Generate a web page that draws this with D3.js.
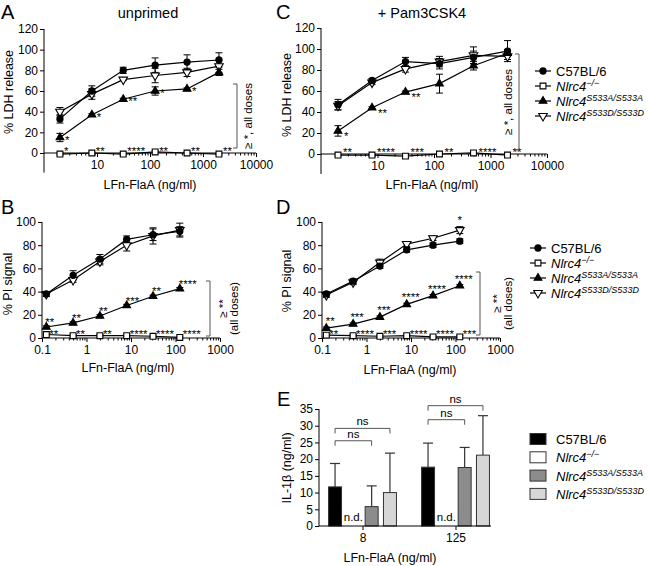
<!DOCTYPE html>
<html><head><meta charset="utf-8">
<script src="https://cdn.jsdelivr.net/npm/d3@7"></script>
<style>body{margin:0;background:#fff} svg text{font-family:"Liberation Sans",Arial,sans-serif;fill:#000}</style>
</head><body><svg id="c" width="650" height="566"></svg>
<script>
// ---------- data ----------
const dosesAC = [2, 8, 31.25, 125, 500, 2000];
const dosesBD = [0.125, 0.5, 2, 8, 31.25, 125];
const xTicksAC = [10, 100, 1000, 10000];
const xTicksBD = [0.1, 1, 10, 100, 1000];
const yTicksLDH = [0, 20, 40, 60, 80, 100, 120];
const yTicksPI = [0, 20, 40, 60, 80, 100];
const yTicksIL = [0, 5, 10, 15, 20, 25, 30, 35];

// Panel A (unprimed, % LDH release)
const A_wt = [33, 60, 80, 85, 88, 90];
const A_wtErr = [4, 5, 3, 7, 7, 7];
const A_ko = [-1, 0, -1, 1, 0, -1];
const A_koErr = [1, 1, 1, 1, 1, 1];
const A_sa = [15, 37, 52, 60, 62, 78];
const A_saErr = [4, 1, 1, 4, 1, 3];
const A_sd = [40, 57, 71, 75, 78, 84];
const A_sdErr = [4, 5, 1, 7, 4, 6];
const A_saStars = ["*", "*", "**", "*", "*", ""];
const A_koStars = ["*", "**", "****", "**", "**", "**"];

// Panel C (+ Pam3CSK4, % LDH release)
const C_wt = [47, 70, 88, 86, 92, 98];
const C_wtErr = [5, 2, 4, 5, 6, 10];
const C_ko = [-1, -1, -2, 0, 1, -1];
const C_koErr = [1, 1, 1, 1, 1, 1];
const C_sa = [22, 44, 59, 67, 84, 96];
const C_saErr = [5, 1, 1, 9, 4, 3];
const C_sd = [46, 68, 81, 88, 94, 93];
const C_sdErr = [4, 2, 3, 5, 8, 3];
const C_saStars = ["*", "**", "**", "", "", ""];
const C_koStars = ["**", "****", "***", "**", "****", "**"];

// Panel B (unprimed, % PI signal)
const B_wt = [38, 54, 68, 85, 89, 92];
const B_wtErr = [2, 4, 4, 3, 5, 4];
const B_ko = [3, 2, 2, 2, 1.5, 0.5];
const B_koErr = [1, 1, 1, 1, 1, 1];
const B_sa = [9.5, 13, 19, 28, 36, 42.5];
const B_saErr = [1, 1, 1, 1, 1, 1];
const B_sd = [38, 50, 66, 80, 88, 93];
const B_sdErr = [2, 2, 3, 5, 7, 6];
const B_saStars = ["**", "**", "**", "***", "**", "****"];
const B_koStars = ["**", "**", "**", "****", "****", "****"];

// Panel D (+ Pam3CSK4, % PI signal)
const D_wt = [38, 49, 62, 76, 80, 83.5];
const D_wtErr = [2, 2, 2, 2, 2, 2];
const D_ko = [2.5, 2, 1.5, 2, 1, 1];
const D_koErr = [1, 1, 1, 1, 1, 1];
const D_sa = [8.5, 12, 18, 29, 36.5, 45];
const D_saErr = [1, 1, 1, 1, 1, 1];
const D_sd = [37, 48, 65, 81, 86, 93];
const D_sdErr = [2, 2, 3, 2, 2, 3];
const D_saStars = ["**", "***", "***", "****", "****", "****"];
const D_koStars = ["**", "****", "***", "****", "****", "***"];
const D_sdStars = ["", "", "", "", "", "*"];

// Panel E (IL-1β)
const E_groups = ["8", "125"];
const E_series = ["wt", "ko", "sa", "sd"];
const E_wt = [11.7, 17.6];
const E_wtErr = [7.0, 7.2];
const E_ko = [null, null];
const E_sa = [5.8, 17.5];
const E_saErr = [6.2, 6.0];
const E_sd = [10.0, 21.2];
const E_sdErr = [11.8, 11.8];
const E_nsPairs = [["8", "wt", "sa", 25.5], ["8", "wt", "sd", 29.2], ["125", "wt", "sa", 31.8], ["125", "wt", "sd", 36]];

const legendNames = ["C57BL/6", "Nlrc4", "Nlrc4", "Nlrc4"];
const legendSups = ["", "\u2212/\u2212", "S533A/S533A", "S533D/S533D"];
const barFills = ["#000000", "#ffffff", "#8c8c8c", "#d6d6d6"];

// ---------- drawing ----------
const svg = d3.select("#c");
const symDefs = {
  wt: {type: d3.symbolCircle, size: 30, fill: "#000", rot: 0},
  ko: {type: d3.symbolSquare, size: 34, fill: "#fff", rot: 0},
  sa: {type: d3.symbolTriangle, size: 26, fill: "#000", rot: 0},
  sd: {type: d3.symbolTriangle, size: 32, fill: "#fff", rot: 180}
};
function marker(g, key, cx, cy) {
  const s = symDefs[key];
  g.append("path").attr("d", d3.symbol().type(s.type).size(s.size)())
    .attr("transform", `translate(${cx},${cy}) rotate(${s.rot})`)
    .attr("fill", s.fill).attr("stroke", "#000").attr("stroke-width", 1.1);
}
function text(g, x, y, s, size, anchor = "start", extra = {}) {
  const t = g.append("text").attr("x", x).attr("y", y).attr("font-size", size).attr("text-anchor", anchor).text(s);
  for (const k in extra) t.attr(k, extra[k]);
  return t;
}

function linePanel(p) {
  const g = svg.append("g");
  const x = p.x, y = p.y;
  const x0 = x.range()[0], x1 = x.range()[1];
  const ya = g.append("g").attr("transform", `translate(${x0},0)`)
    .call(d3.axisLeft(y).tickValues(p.yTicks).tickSize(4).tickPadding(2));
  ya.select(".domain").remove();
  ya.selectAll("text").attr("font-size", 12).attr("font-family", null);
  g.append("line").attr("x1", x0).attr("x2", x0).attr("y1", y(p.yBottom)).attr("y2", y(p.yTicks[p.yTicks.length - 1])).attr("stroke", "#000");
  const xa = g.append("g").attr("transform", `translate(0,${y(0)})`)
    .call(d3.axisBottom(x).tickValues(p.xTicks).tickFormat(d => String(d)).tickSize(4).tickPadding(3));
  xa.select(".domain").remove();
  xa.selectAll("text").attr("font-size", 12).attr("font-family", null);
  const minor = [];
  const dom = x.domain();
  for (let e = Math.round(Math.log10(dom[0])); e < Math.round(Math.log10(dom[1])); e++)
    for (let k = 2; k <= 9; k++) minor.push(k * Math.pow(10, e));
  const xm = g.append("g").attr("transform", `translate(0,${y(0)})`)
    .call(d3.axisBottom(x).tickValues(minor).tickFormat("").tickSize(2.5));
  xm.select(".domain").remove();
  g.append("line").attr("x1", x0).attr("x2", x1).attr("y1", y(0)).attr("y2", y(0)).attr("stroke", "#000");
  g.selectAll(".tick line").attr("stroke", "#000");

  const order = ["ko", "sd", "sa", "wt"];
  const line = d3.line().x(d => x(d[0])).y(d => y(d[1]));
  order.forEach(k => {
    const s = p.series[k];
    g.append("path").attr("d", line(p.doses.map((d, i) => [d, s.v[i]])))
      .attr("fill", "none").attr("stroke", "#000").attr("stroke-width", 1.2);
  });
  order.forEach(k => {
    const s = p.series[k];
    p.doses.forEach((d, i) => {
      const cx = x(d), lo = y(s.v[i] - s.e[i]), hi = y(s.v[i] + s.e[i]);
      g.append("line").attr("x1", cx).attr("x2", cx).attr("y1", lo).attr("y2", hi).attr("stroke", "#000");
      [lo, hi].forEach(yy => g.append("line").attr("x1", cx - 3.5).attr("x2", cx + 3.5).attr("y1", yy).attr("y2", yy).attr("stroke", "#000"));
    });
  });
  order.forEach(k => {
    const s = p.series[k];
    p.doses.forEach((d, i) => marker(g, k, x(d), y(s.v[i])));
  });
  (p.stars || []).forEach(st => {
    const s = p.series[st.key];
    p.doses.forEach((d, i) => {
      if (!st.labels[i]) return;
      const yy = st.onAxis ? y(0) : y(s.v[i]);
      text(g, x(d) + st.dx, yy + st.dy, st.labels[i], 11.5, st.anchor || "start");
    });
  });
  text(g, p.xTitleX, p.xTitleY, "LFn-FlaA (ng/ml)", 12.5, "middle");
  text(g, 0, 0, p.yTitle, 12.5, "middle", {transform: `translate(${p.yTitleX},${p.yTitleY}) rotate(-90)`});
  text(g, p.letterX, p.letterY, p.letter, 20);
  if (p.title) text(g, p.titleX, 18, p.title, 14.5, "middle");
  const b = p.bracket;
  g.append("path").attr("d", `M${b.x - 4},${b.y1}H${b.x}V${b.y2}H${b.x - 4}`).attr("fill", "none").attr("stroke", "#555");
  b.lines.forEach((ln, i) => {
    text(g, 0, 0, ln, 11.5, "middle", {transform: `translate(${b.tx + i * 11},${(b.y1 + b.y2) / 2 + (b.tyOff || 0)}) rotate(-90)`, "dominant-baseline": "central"});
  });
  return g;
}

function legendLine(x, y0, dy) {
  const g = svg.append("g");
  ["wt", "ko", "sa", "sd"].forEach((k, i) => {
    const yy = y0 + i * dy;
    g.append("line").attr("x1", x - 8).attr("x2", x + 8).attr("y1", yy).attr("y2", yy).attr("stroke", "#000").attr("stroke-width", 1.2);
    marker(g, k, x, yy);
    const t = g.append("text").attr("x", x + 13).attr("y", yy + 5).attr("font-size", 13);
    t.append("tspan").text(legendNames[i]).attr("font-style", i ? "italic" : null);
    if (legendSups[i]) t.append("tspan").text(legendSups[i]).attr("font-size", 9).attr("dy", -5).attr("font-style", "italic");
  });
}

// Panel A
linePanel({
  x: d3.scaleLog().domain([1, 10000]).range([44, 256]),
  y: d3.scaleLinear().domain([0, 120]).range([153, 29]),
  doses: dosesAC, xTicks: xTicksAC, yTicks: yTicksLDH, yBottom: -19,
  series: {wt: {v: A_wt, e: A_wtErr}, ko: {v: A_ko, e: A_koErr}, sa: {v: A_sa, e: A_saErr}, sd: {v: A_sd, e: A_sdErr}},
  stars: [{key: "sa", labels: A_saStars, dx: 5, dy: 6}, {key: "ko", labels: A_koStars, dx: 4, onAxis: true, dy: 2}],
  xTitleX: 150, xTitleY: 189, yTitle: "% LDH release", yTitleX: 13, yTitleY: 92,
  letter: "A", letterX: 1, letterY: 19, title: "unprimed", titleX: 148,
  bracket: {x: 237, y1: 84, y2: 148, tx: 248, lines: ["\u2265 *, all doses"]}
});
// Panel C
linePanel({
  x: d3.scaleLog().domain([1, 10000]).range([321, 547]),
  y: d3.scaleLinear().domain([0, 120]).range([154, 28]),
  doses: dosesAC, xTicks: xTicksAC, yTicks: yTicksLDH, yBottom: -19,
  series: {wt: {v: C_wt, e: C_wtErr}, ko: {v: C_ko, e: C_koErr}, sa: {v: C_sa, e: C_saErr}, sd: {v: C_sd, e: C_sdErr}},
  stars: [{key: "sa", labels: C_saStars, dx: 6, dy: 9}, {key: "ko", labels: C_koStars, dx: 5, onAxis: true, dy: 2}],
  xTitleX: 432, xTitleY: 189, yTitle: "% LDH release", yTitleX: 291, yTitleY: 95,
  letter: "C", letterX: 276, letterY: 19, title: "+ Pam3CSK4", titleX: 422,
  bracket: {x: 519, y1: 54, y2: 150, tx: 508, lines: ["\u2265 *, all doses"]}
});
// Panel B
linePanel({
  x: d3.scaleLog().domain([0.1, 1000]).range([42, 220]),
  y: d3.scaleLinear().domain([0, 100]).range([338, 222]),
  doses: dosesBD, xTicks: xTicksBD, yTicks: yTicksPI, yBottom: 0,
  series: {wt: {v: B_wt, e: B_wtErr}, ko: {v: B_ko, e: B_koErr}, sa: {v: B_sa, e: B_saErr}, sd: {v: B_sd, e: B_sdErr}},
  stars: [{key: "sa", labels: B_saStars, dx: -1, dy: -1}, {key: "ko", labels: B_koStars, dx: 3, onAxis: true, dy: 0}],
  xTitleX: 128, xTitleY: 372, yTitle: "% PI signal", yTitleX: 12, yTitleY: 284,
  letter: "B", letterX: 1, letterY: 214,
  bracket: {x: 210, y1: 281, y2: 336, tx: 223, lines: ["\u2265 **", "(all doses)"]}
});
// Panel D
linePanel({
  x: d3.scaleLog().domain([0.1, 1000]).range([322, 500]),
  y: d3.scaleLinear().domain([0, 100]).range([338, 222]),
  doses: dosesBD, xTicks: xTicksBD, yTicks: yTicksPI, yBottom: 0,
  series: {wt: {v: D_wt, e: D_wtErr}, ko: {v: D_ko, e: D_koErr}, sa: {v: D_sa, e: D_saErr}, sd: {v: D_sd, e: D_sdErr}},
  stars: [{key: "sa", labels: D_saStars, dx: 4, dy: -3, anchor: "middle"}, {key: "ko", labels: D_koStars, dx: 3, onAxis: true, dy: 0},
          {key: "sd", labels: D_sdStars, dx: 0, dy: -6, anchor: "middle"}],
  xTitleX: 410, xTitleY: 374, yTitle: "% PI signal", yTitleX: 291, yTitleY: 281,
  letter: "D", letterX: 276, letterY: 214,
  bracket: {x: 480, y1: 272, y2: 335, tx: 497, lines: ["\u2265 **", "(all doses)"]}
});

legendLine(543, 71, 15);
legendLine(538, 248, 15);

// Panel E
(function () {
  const g = svg.append("g");
  const y = d3.scaleLinear().domain([0, 35]).range([526, 409]);
  const x0 = d3.scaleBand().domain(E_groups).range([316, 502]);
  const x1 = d3.scaleBand().domain(E_series).range([-36.6, 36.6]).paddingInner(0.29).paddingOuter(0.145);
  const cx = (gr, s) => x0(gr) + x0.bandwidth() / 2 + x1(s) + x1.bandwidth() / 2;
  const vals = {wt: [E_wt, E_wtErr], ko: [E_ko, null], sa: [E_sa, E_saErr], sd: [E_sd, E_sdErr]};
  const ya = g.append("g").attr("transform", "translate(319,0)").call(d3.axisLeft(y).tickValues(yTicksIL).tickSize(4).tickPadding(2));
  ya.selectAll("text").attr("font-size", 12).attr("font-family", null);
  ya.select(".domain").attr("d", `M0,${y(0)}V${y(35)}`);
  E_series.forEach((s, si) => {
    E_groups.forEach((gr, gi) => {
      const v = vals[s][0][gi];
      const c = cx(gr, s);
      if (v == null) {
        text(g, c, y(0) - 5, "n.d.", 11.5, "middle");
        return;
      }
      const e = vals[s][1][gi];
      g.append("line").attr("x1", c).attr("x2", c).attr("y1", y(v)).attr("y2", y(v + e)).attr("stroke", "#333").attr("stroke-width", 1.2);
      g.append("line").attr("x1", c - 5).attr("x2", c + 5).attr("y1", y(v + e)).attr("y2", y(v + e)).attr("stroke", "#333").attr("stroke-width", 1.2);
      g.append("rect").attr("x", c - x1.bandwidth() / 2).attr("y", y(v)).attr("width", x1.bandwidth()).attr("height", y(0) - y(v))
        .attr("fill", barFills[si]).attr("stroke", "#333").attr("stroke-width", 1);
    });
  });
  const xa = g.append("g").attr("transform", `translate(0,${y(0)})`)
    .call(d3.axisBottom(d3.scalePoint().domain(E_groups).range([x0("8") + x0.bandwidth() / 2, x0("125") + x0.bandwidth() / 2])).tickSize(4).tickPadding(3));
  xa.select(".domain").remove();
  xa.selectAll("text").attr("font-size", 12).attr("font-family", null);
  g.append("line").attr("x1", 319).attr("x2", 491).attr("y1", y(0)).attr("y2", y(0)).attr("stroke", "#000");
  E_nsPairs.forEach(([gr, a, b, lvl]) => {
    const xa1 = cx(gr, a), xb = cx(gr, b), yy = y(lvl);
    g.append("path").attr("d", `M${xa1},${yy + 5}V${yy}H${xb}V${yy + 5}`).attr("fill", "none").attr("stroke", "#555");
    text(g, (xa1 + xb) / 2, yy - 3, "ns", 11.5, "middle");
  });
  text(g, 390, 562, "LFn-FlaA (ng/ml)", 12.5, "middle");
  text(g, 0, 0, "IL-1\u03b2 (ng/ml)", 12.5, "middle", {transform: "translate(291,468) rotate(-90)"});
  text(g, 277, 406, "E", 20);
  E_series.forEach((s, i) => {
    const yy = 439 + i * 18.3;
    g.append("rect").attr("x", 530).attr("y", yy - 5.5).attr("width", 16).attr("height", 11).attr("fill", barFills[i]).attr("stroke", "#333");
    const t = g.append("text").attr("x", 556).attr("y", yy + 5).attr("font-size", 13);
    t.append("tspan").text(legendNames[i]).attr("font-style", i ? "italic" : null);
    if (legendSups[i]) t.append("tspan").text(legendSups[i]).attr("font-size", 9).attr("dy", -5).attr("font-style", "italic");
  });
})();
</script></body></html>
